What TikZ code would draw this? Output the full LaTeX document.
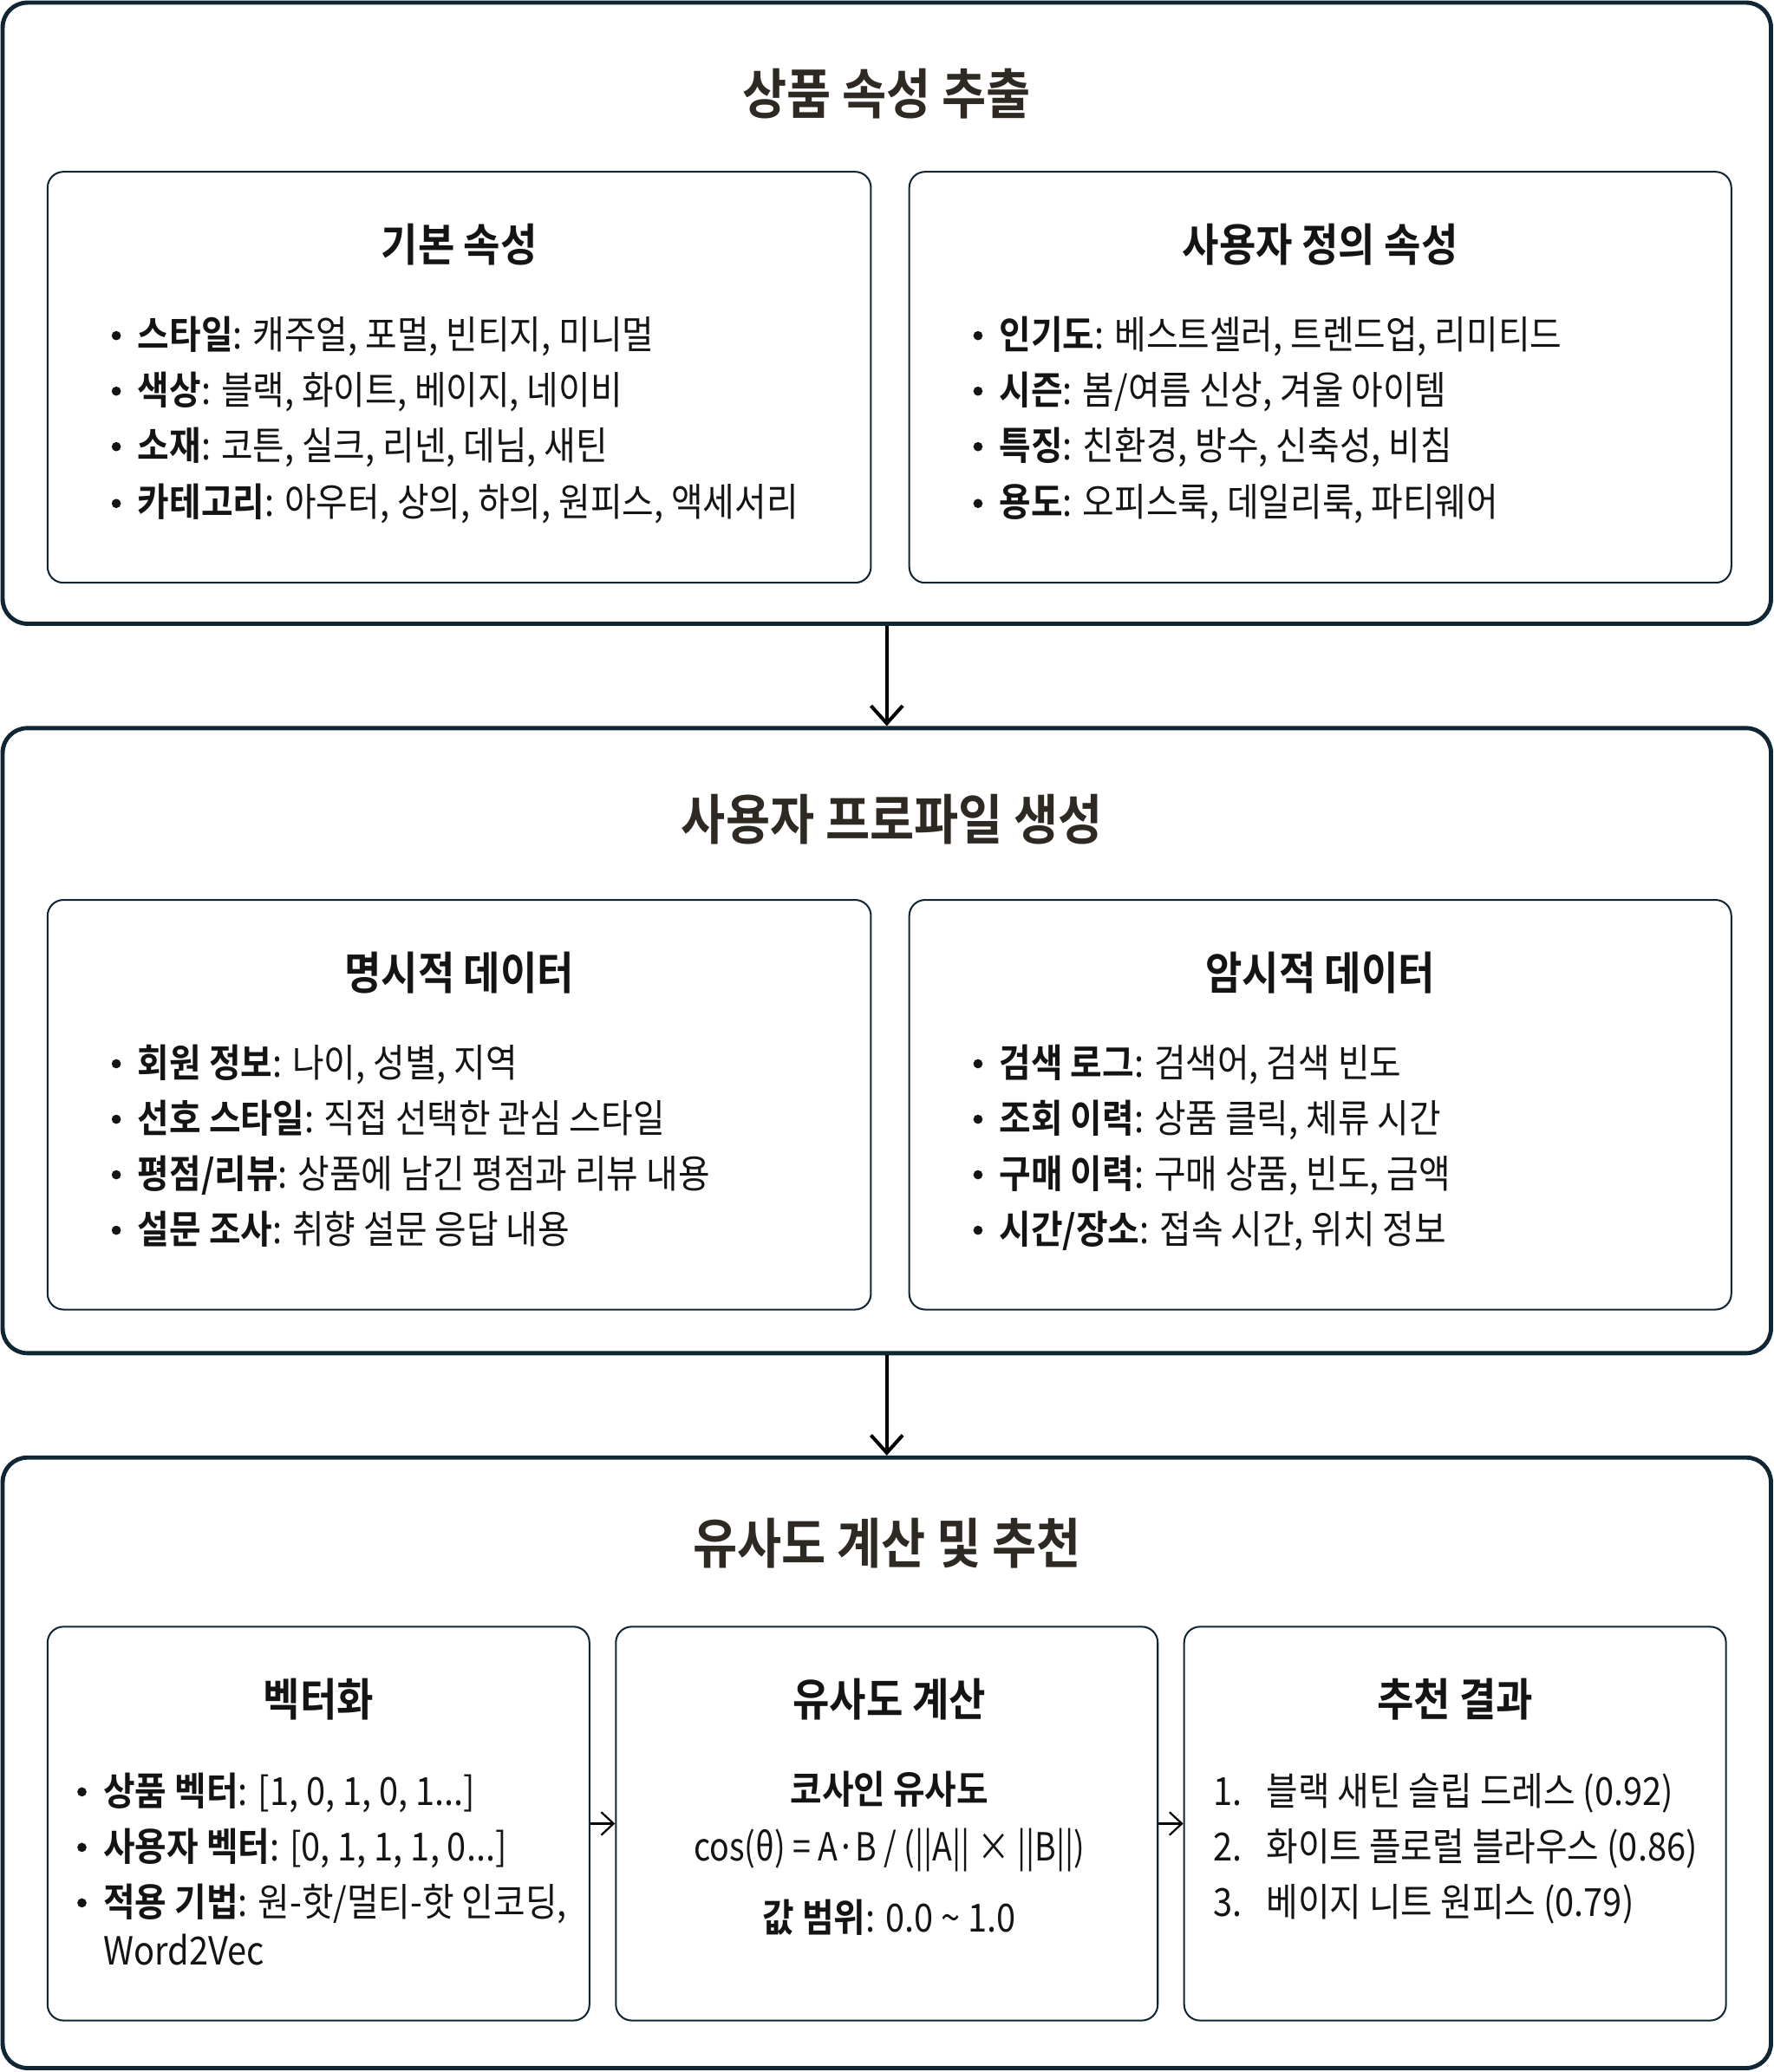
\documentclass[tikz,border=0pt]{standalone}
\usepackage{fontspec}
\setmainfont{Noto Sans CJK KR}[FakeStretch=0.89,BoldFont={Noto Sans CJK KR Bold}]
\usepackage{tikz}
\usetikzlibrary{arrows.meta}
\definecolor{boxline}{RGB}{16,38,52}
\definecolor{titletext}{RGB}{46,41,34}
\definecolor{bodytext}{RGB}{20,20,20}

\begin{document}
\begin{tikzpicture}[x=0.75pt,y=0.75pt,yscale=-1,xscale=1,
    outerbox/.style={draw=boxline,line width=2.4pt,rounded corners=14pt,inner sep=0pt},
    innerbox/.style={draw=boxline,line width=1pt,rounded corners=9pt,inner sep=0pt},
    bigtitle/.style={text=titletext,font=\fontsize{30.75pt}{36pt}\selectfont\bfseries,inner sep=0pt},
    subtitle/.style={text=bodytext,font=\fontsize{25.5pt}{30pt}\selectfont\bfseries,inner sep=0pt},
    item/.style={anchor=west,text=bodytext,font=\fontsize{22pt}{31.5pt}\selectfont,inner sep=0pt,text height=18pt,text depth=1.6pt},
    centreitem/.style={item,anchor=center},
    flow/.style={-{Straight Barb[length=10pt,width=18pt]},line width=2pt,black},
    flowsmall/.style={-{Straight Barb[length=7pt,width=13pt]},line width=1.1pt,black}
  ]
    \useasboundingbox (0,0) rectangle (1342,1568);

        % stage boxes
        \draw (671,237) node [outerbox,minimum width=1003.5pt,minimum height=352.5pt] (attr) {};
        \draw (671,787.5) node [outerbox,minimum width=1003.5pt,minimum height=354.75pt] (profile) {};
        \draw (671,1334) node [outerbox,minimum width=1003.5pt,minimum height=346.5pt] (recommend) {};

        \draw (347.5,285.5) node [innerbox,minimum width=467.25pt,minimum height=233.25pt] (basic) {};
        \draw (999,285.5) node [innerbox,minimum width=466.5pt,minimum height=233.25pt] (custom) {};
        \draw (347.5,836) node [innerbox,minimum width=467.25pt,minimum height=232.5pt] (explicit) {};
        \draw (999,836) node [innerbox,minimum width=466.5pt,minimum height=232.5pt] (implicit) {};
        \draw (241,1380) node [innerbox,minimum width=307.5pt,minimum height=223.5pt] (vec) {};
        \draw (671,1380) node [innerbox,minimum width=307.5pt,minimum height=223.5pt] (sim) {};
        \draw (1101,1380) node [innerbox,minimum width=307.5pt,minimum height=223.5pt] (result) {};

        % arrows
        \draw [flow] (attr) -- (profile);
        \draw [flow] (profile) -- (recommend);
        \draw [flowsmall] (vec) -- (sim);
        \draw [flowsmall] (sim) -- (result);

        % titles
        \draw (671,71) node [bigtitle] (attrTitle) {상품 속성 추출};
        \draw (675,620) node [bigtitle] (profileTitle) {사용자 프로파일 생성};
        \draw (671,1168) node [bigtitle] (recommendTitle) {유사도 계산 및 추천};

        \draw (347.5,185) node [subtitle] (basicTitle) {기본 속성};
        \draw (999,185) node [subtitle] (customTitle) {사용자 정의 속성};
        \draw (347.5,736) node [subtitle] (explicitTitle) {명시적 데이터};
        \draw (999,736) node [subtitle] (implicitTitle) {암시적 데이터};
        \draw (241,1286) node [subtitle] (vecTitle) {벡터화};
        \draw (673,1286) node [subtitle] (simTitle) {유사도 계산};
        \draw (1101,1286) node [subtitle] (resultTitle) {추천 결과};

        % bullets
        \fill [bodytext] (88,254) circle (3.5);
        \fill [bodytext] (88,296) circle (3.5);
        \fill [bodytext] (88,338) circle (3.5);
        \fill [bodytext] (88,381) circle (3.5);
        \fill [bodytext] (740,254) circle (3.5);
        \fill [bodytext] (740,296) circle (3.5);
        \fill [bodytext] (740,338) circle (3.5);
        \fill [bodytext] (740,381) circle (3.5);
        \fill [bodytext] (88,805) circle (3.5);
        \fill [bodytext] (88,847) circle (3.5);
        \fill [bodytext] (88,889) circle (3.5);
        \fill [bodytext] (88,931) circle (3.5);
        \fill [bodytext] (740,805) circle (3.5);
        \fill [bodytext] (740,847) circle (3.5);
        \fill [bodytext] (740,889) circle (3.5);
        \fill [bodytext] (740,931) circle (3.5);
        \fill [bodytext] (62,1356) circle (3.5);
        \fill [bodytext] (62,1398) circle (3.5);
        \fill [bodytext] (62,1440) circle (3.5);

        % basic attributes
        \draw (104,253) node [item] (basic1) {\textbf{스타일}: 캐주얼, 포멀, 빈티지, 미니멀};
        \draw (104,295) node [item] (basic2) {\textbf{색상}: 블랙, 화이트, 베이지, 네이비};
        \draw (104,337) node [item] (basic3) {\textbf{소재}: 코튼, 실크, 리넨, 데님, 새틴};
        \draw (104,380) node [item] (basic4) {\textbf{카테고리}: 아우터, 상의, 하의, 원피스, 액세서리};

        % custom attributes
        \draw (756,253) node [item] (custom1) {\textbf{인기도}: 베스트셀러, 트렌드업, 리미티드};
        \draw (756,295) node [item] (custom2) {\textbf{시즌}: 봄/여름 신상, 겨울 아이템};
        \draw (756,337) node [item] (custom3) {\textbf{특징}: 친환경, 방수, 신축성, 비침};
        \draw (756,380) node [item] (custom4) {\textbf{용도}: 오피스룩, 데일리룩, 파티웨어};

        % explicit data
        \draw (104,804) node [item] (explicit1) {\textbf{회원 정보}: 나이, 성별, 지역};
        \draw (104,846) node [item] (explicit2) {\textbf{선호 스타일}: 직접 선택한 관심 스타일};
        \draw (104,888) node [item] (explicit3) {\textbf{평점/리뷰}: 상품에 남긴 평점과 리뷰 내용};
        \draw (104,930) node [item] (explicit4) {\textbf{설문 조사}: 취향 설문 응답 내용};

        % implicit data
        \draw (756,804) node [item] (implicit1) {\textbf{검색 로그}: 검색어, 검색 빈도};
        \draw (756,846) node [item] (implicit2) {\textbf{조회 이력}: 상품 클릭, 체류 시간};
        \draw (756,888) node [item] (implicit3) {\textbf{구매 이력}: 구매 상품, 빈도, 금액};
        \draw (756,930) node [item] (implicit4) {\textbf{시간/장소}: 접속 시간, 위치 정보};

        % vectorisation
        \draw (78,1355) node [item] (vec1) {\textbf{상품 벡터}: [1, 0, 1, 0, 1...]};
        \draw (78,1397) node [item] (vec2) {\textbf{사용자 벡터}: [0, 1, 1, 1, 0...]};
        \draw (78,1439) node [item] (vec3) {\textbf{적용 기법}: 원-핫/멀티-핫 인코딩,};
        \draw (78,1476) node [item] (vec4) {Word2Vec};

        % similarity
        \draw (673,1354) node [centreitem] (sim1) {\textbf{코사인 유사도}};
        \draw (673,1397) node [centreitem] (sim2) {\addfontfeatures{FakeStretch=0.84}cos(θ) = A·B / (||A|| × ||B||)};
        \draw (673,1451) node [centreitem] (sim3) {\textbf{값 범위}: 0.0 \textasciitilde{} 1.0};

        % results
        \draw (918,1355) node [item] (rank1) {1.};
        \draw (918,1397) node [item] (rank2) {2.};
        \draw (918,1439) node [item] (rank3) {3.};
        \draw (958,1355) node [item] (result1) {블랙 새틴 슬립 드레스 (0.92)};
        \draw (958,1397) node [item] (result2) {화이트 플로럴 블라우스 (0.86)};
        \draw (958,1439) node [item] (result3) {베이지 니트 원피스 (0.79)};
\end{tikzpicture}
\end{document}
